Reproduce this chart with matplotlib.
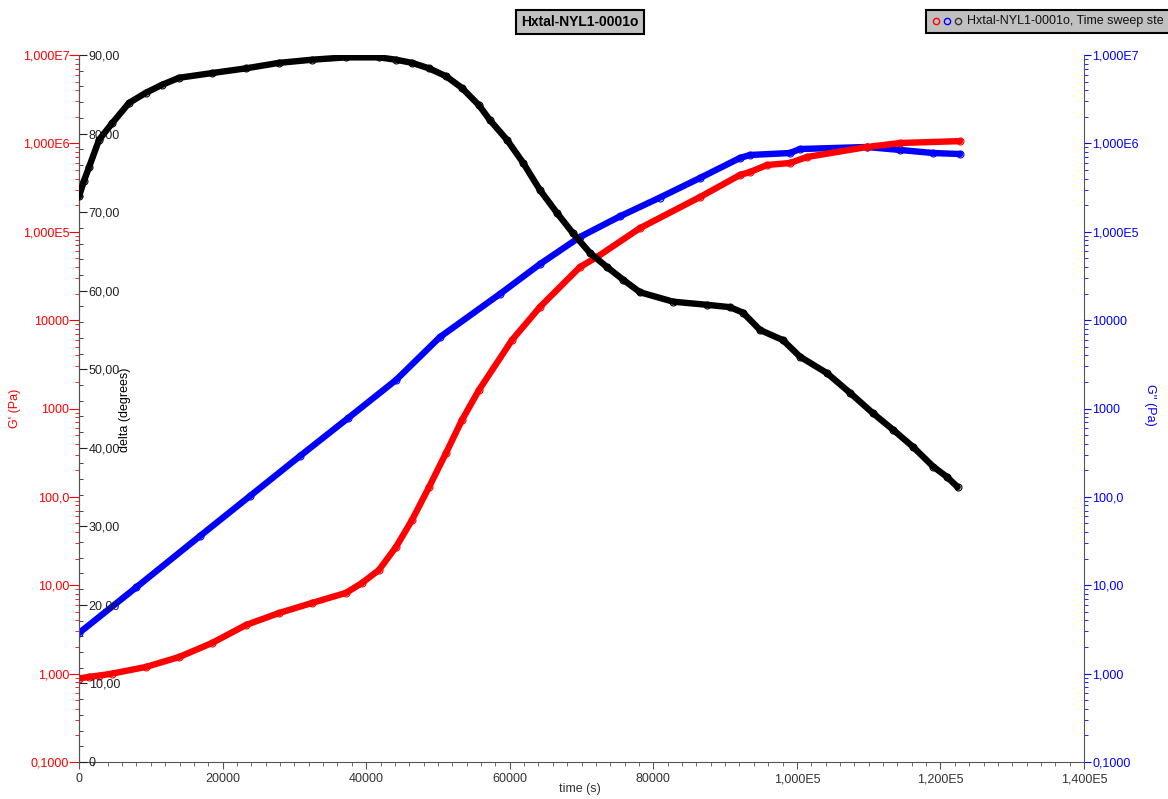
import numpy as np
import matplotlib.pyplot as plt
from matplotlib.ticker import FuncFormatter, FixedLocator, MultipleLocator
from matplotlib.patches import Rectangle
from matplotlib.lines import Line2D

plt.rcParams["font.family"] = ["Liberation Sans", "DejaVu Sans"]

# storage modulus G' (Pa) vs time (s)
t_gp = [0, 1400, 2800, 4600, 9330, 13930, 18530, 23260, 27860, 32460, 37190,
        39420, 41790, 44160, 46390, 48760, 51130, 53350, 55720, 60320, 64220,
        69790, 72160, 78150, 86510, 92080, 93470, 95840, 99040, 101410,
        109770, 114370, 122730]
g_prime = [0.88, 0.92, 0.95, 1.0, 1.19, 1.54, 2.22, 3.55, 4.85, 6.3, 8.2,
           10.6, 14.9, 27.1, 54.7, 129, 314, 741, 1620, 5960, 14100,
           39900, 51800, 110000, 247000, 439000, 474000, 569000, 600000,
           701000, 910000, 1.01e6, 1.06e6]

# loss modulus G'' (Pa) vs time (s)
t_gpp = [0, 8000, 16860, 23800, 30790, 37500, 44160, 50290, 58650, 64200,
         69790, 75400, 80930, 86510, 92080, 93470, 99040, 100430, 109770,
         114370, 118970, 122730]
g_double = [2.88, 9.5, 36.1, 102, 290, 780, 2100, 6440, 19800, 43000,
            87300, 150000, 244000, 406000, 684000, 739000, 778000, 863000,
            910000, 842000, 778000, 758000]

# phase angle delta (degrees) vs time (s)
t_delta = [0, 700, 1390, 2790, 4600, 6970, 9330, 11560, 13930, 18530, 23260,
           27860, 32460, 37190, 41790, 44160, 46390, 48760, 51130, 53350,
           55720, 57250, 59620, 61850, 64220, 66580, 68820, 71190, 73560,
           75790, 78150, 82750, 87480, 90680, 92500, 94860, 98070, 100430,
           104200, 107400, 110600, 113400, 116200, 119000, 120900, 122400]
delta = [72.0, 74.0, 75.7, 79.2, 81.3, 83.9, 85.2, 86.2, 87.1, 87.7, 88.3,
         89.0, 89.4, 89.7, 89.7, 89.4, 89.0, 88.3, 87.3, 85.8,
         83.6, 81.7, 79.2, 76.3, 72.8, 69.9, 67.3, 64.8, 63.0,
         61.4, 59.8, 58.6, 58.2, 57.9, 57.2, 55.0, 53.7, 51.6,
         49.5, 47.0, 44.4, 42.3, 40.1, 37.6, 36.3, 35.0]

modulus_ticks = [0.1, 1, 10, 100, 1000, 1e4, 1e5, 1e6, 1e7]
modulus_minor = [m * d for d in modulus_ticks[:-1] for m in range(2, 10)]


def euro_fmt(v, pos=None):
    if v == 0:
        return "0"
    e = int(np.floor(np.log10(abs(v)) + 1e-9))
    if e >= 5:
        return f"{v / 10 ** e:.3f}E{e}".replace(".", ",")
    if e >= 3:
        return f"{v:.0f}"
    return f"{v:.{3 - e}f}".replace(".", ",")


RED = "#ff0000"
BLUE = "#0000ff"
GREY = "#555555"
LW = 4.6

fig = plt.figure(figsize=(11.68, 7.99), dpi=100)
W, H = 1168, 799
ax = fig.add_axes([79 / W, 37 / H, 1005 / W, 707 / H])

# G' and G'' share one log scale
ax.set_yscale("log")
ax.set_ylim(0.1, 1e7)
ax.set_xlim(0, 1.4e5)
ax.plot(t_gpp, g_double, color=BLUE, lw=LW, solid_capstyle="round",
        marker="o", mfc="none", ms=5, mew=0.8, zorder=2)
ax.plot(t_gp, g_prime, color=RED, lw=LW, solid_capstyle="round",
        marker="o", mfc="none", ms=5, mew=0.8, zorder=3)

for s in ["top", "right"]:
    ax.spines[s].set_visible(False)
ax.spines["left"].set_color(GREY)
ax.spines["bottom"].set_color(GREY)
ax.yaxis.set_major_locator(FixedLocator(modulus_ticks))
ax.yaxis.set_minor_locator(FixedLocator(modulus_minor))
ax.yaxis.set_major_formatter(FuncFormatter(euro_fmt))
ax.tick_params(axis="y", which="major", colors=RED, length=7, labelsize=9, pad=0)
ax.tick_params(axis="y", which="minor", colors=RED, length=3)
ax.xaxis.set_major_locator(MultipleLocator(20000))
ax.xaxis.set_minor_locator(MultipleLocator(2000))
ax.xaxis.set_major_formatter(FuncFormatter(euro_fmt))
ax.tick_params(axis="x", which="major", colors=GREY, length=5, labelsize=9,
               labelcolor="#333333", pad=3)
ax.tick_params(axis="x", which="minor", colors=GREY, length=3)

# delta axis sits on the left spine, labels inside the plot
ax_d = ax.twinx()
ax_d.set_ylim(0, 90)
ax_d.set_xlim(0, 1.4e5)
ax_d.plot(t_delta, delta, color="black", lw=LW, solid_capstyle="round",
          marker="o", mfc="none", ms=5, mew=0.8, zorder=4)
for s in ["top", "left", "bottom"]:
    ax_d.spines[s].set_visible(False)
ax_d.spines["right"].set_position(("axes", 0))
ax_d.spines["right"].set_color(GREY)
ax_d.yaxis.set_major_locator(MultipleLocator(10))
ax_d.yaxis.set_minor_locator(MultipleLocator(2))
ax_d.yaxis.set_major_formatter(FuncFormatter(euro_fmt))
ax_d.tick_params(axis="y", which="major", colors="#222222", length=6,
                 labelsize=9, pad=1)
ax_d.tick_params(axis="y", which="minor", colors="#222222", length=3)

# G'' axis on the right
ax_r = ax.twinx()
ax_r.set_yscale("log")
ax_r.set_ylim(0.1, 1e7)
for s in ["top", "left", "bottom"]:
    ax_r.spines[s].set_visible(False)
ax_r.spines["right"].set_color(GREY)
ax_r.yaxis.set_major_locator(FixedLocator(modulus_ticks))
ax_r.yaxis.set_minor_locator(FixedLocator(modulus_minor))
ax_r.yaxis.set_major_formatter(FuncFormatter(euro_fmt))
ax_r.tick_params(axis="y", which="major", colors=BLUE, length=5, labelsize=9,
                 pad=1)
ax_r.tick_params(axis="y", which="minor", colors=BLUE, length=3)

# axis titles
fig.text(15 / W, 1 - 408 / H, "G' (Pa)", color=RED, rotation=90,
         ha="center", va="center", fontsize=9)
fig.text(125 / W, 1 - 410 / H, "delta (degrees)", color="black", rotation=90,
         ha="center", va="center", fontsize=9)
fig.text(1150 / W, 1 - 405 / H, "G'' (Pa)", color=BLUE, rotation=270,
         ha="center", va="center", fontsize=9)
fig.text(580 / W, 1 - 789 / H, "time (s)", color="#333333",
         ha="center", va="center", fontsize=9)

# title box
fig.text(580 / W, 1 - 22 / H, "Hxtal-NYL1-0001o", fontsize=10,
         fontweight="bold", ha="center", va="center",
         bbox=dict(boxstyle="square,pad=0.35", fc="#c0c0c0", ec="black", lw=1.5))

# legend strip, running off the right edge
fig.patches.append(Rectangle((926 / W, 1 - 33 / H), 300 / W, 23 / H,
                             transform=fig.transFigure, fc="#c0c0c0",
                             ec="black", lw=1.5))
for xp, c in [(936, RED), (947, BLUE), (958, "#333333")]:
    fig.lines.append(Line2D([xp / W], [1 - 21 / H], transform=fig.transFigure,
                            marker="o", mfc="none", mec=c, ms=4.5, mew=1))
fig.text(967 / W, 1 - 21 / H, "Hxtal-NYL1-0001o, Time sweep ste",
         fontsize=9, ha="left", va="center", color="#111111")

fig.savefig("out.png", dpi=100)
